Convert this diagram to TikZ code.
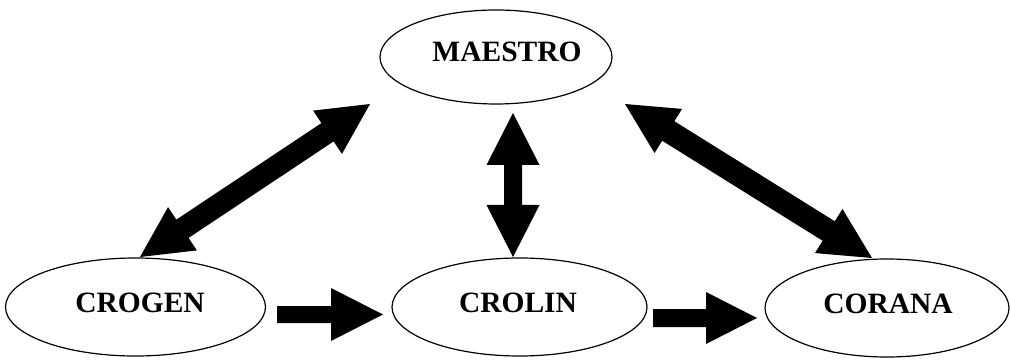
\documentclass[tikz,border=0pt]{standalone}
\usepackage{fontspec}
\setmainfont{Liberation Serif}
\usetikzlibrary{shapes.geometric,calc}
\tikzset{
  ell/.style={draw, ellipse, line width=1.2pt, inner sep=0pt, minimum height=98pt},
  lbl/.style={font=\fontsize{29.5}{30}\selectfont\bfseries},
}
\newcommand\dblarrow[5]{%
  \path ($(#1)!#3!(#2)$) coordinate (B1) ($(#2)!#3!(#1)$) coordinate (B2);
  \fill (#1) -- ($(B1)!#4!90:(#2)$) -- ($(B1)!#5!90:(#2)$) -- ($(B2)!#5!-90:(#1)$)
    -- ($(B2)!#4!-90:(#1)$) -- (#2) -- ($(B2)!#4!90:(#1)$) -- ($(B2)!#5!90:(#1)$)
    -- ($(B1)!#5!-90:(#2)$) -- ($(B1)!#4!-90:(#2)$) -- cycle;}
\newcommand\sglarrow[5]{%
  \path ($(#2)!#3!(#1)$) coordinate (B1);
  \fill ($(#1)!#5!90:(#2)$) -- ($(B1)!#5!-90:(#1)$) -- ($(B1)!#4!-90:(#1)$) -- (#2)
    -- ($(B1)!#4!90:(#1)$) -- ($(B1)!#5!90:(#1)$) -- ($(#1)!#5!-90:(#2)$) -- cycle;}
\begin{document}
\begin{tikzpicture}[x=1pt,y=-1pt]
\useasboundingbox (0,0) rectangle (1011,363);
\node[ell, minimum width=232pt, minimum height=94pt] (maestro) at (496,57) {};
\node[lbl] (tmaestro) at (507,52) {MAESTRO};
\node[ell, minimum width=260pt] (crogen) at (135.5,307) {};
\node[lbl] (tcrogen) at (140,303) {CROGEN};
\node[ell, minimum width=255pt] (crolin) at (519.5,307) {};
\node[lbl] (tcrolin) at (518,303) {CROLIN};
\node[ell, minimum width=244pt] (corana) at (887,308) {};
\node[lbl] (tcorana) at (888,304) {CORANA};
% arrow end points
\coordinate (a1) at (140,257);
\coordinate (a2) at (370,104);
\coordinate (b1) at (513,113);
\coordinate (b2) at (513,257);
\coordinate (c1) at (625,104);
\coordinate (c2) at (872,258);
\coordinate (d1) at (277,314.5);
\coordinate (d2) at (383,314.5);
\coordinate (e1) at (653,318);
\coordinate (e2) at (757,318);
\dblarrow{a1}{a2}{51pt}{26pt}{11pt}
\dblarrow{b1}{b2}{52pt}{26.5pt}{9pt}
\dblarrow{c1}{c2}{51pt}{26pt}{11.5pt}
\sglarrow{d1}{d2}{52pt}{26.5pt}{8.5pt}
\sglarrow{e1}{e2}{51pt}{26pt}{9pt}
\end{tikzpicture}
\end{document}
